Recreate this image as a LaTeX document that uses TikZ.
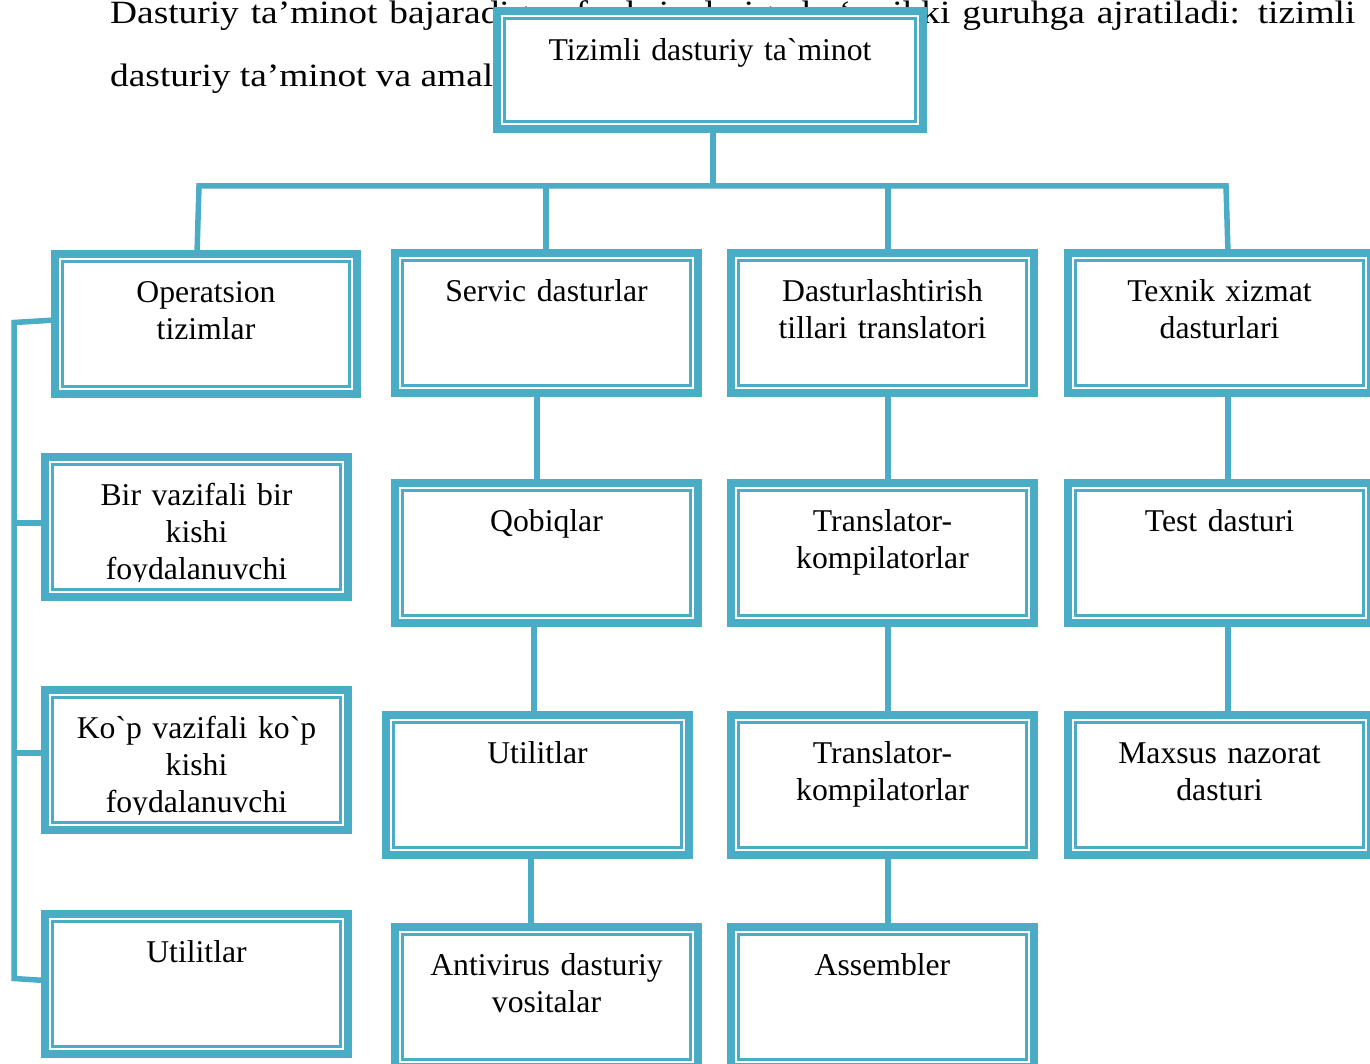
\documentclass[tikz,border=0pt]{standalone}
\usepackage{fontspec}
\setmainfont{Liberation Serif}[Ligatures=TeXOff]
\newfontfamily\parafont{Liberation Serif}[FakeStretch=1.15]
\usetikzlibrary{calc}
\definecolor{frame}{RGB}{75,172,198}

\tikzset{
  boxfont/.style={font=\fontsize{31.7}{37}\selectfont},
  chart/.style={rectangle, draw=frame, line width=8.3pt, fill=white,
    inner sep=0pt, outer sep=0pt, anchor=north west, align=center,
    boxfont, text width=290pt, minimum width=302.7pt,
    text height=48.35pt, text depth=91.35pt,
    path picture={\draw[frame, line width=2.6pt]
      ($(path picture bounding box.south west)+(7.45pt,7.45pt)$) rectangle
      ($(path picture bounding box.north east)+(-7.45pt,-7.45pt)$);}},
  link/.style={draw=frame, line width=5.5pt},
  paratext/.style={anchor=base west, inner sep=0pt,
    font=\parafont\fontsize{32.5}{40}\selectfont},
}

\begin{document}
\begin{tikzpicture}[x=1pt,y=-1pt]
\useasboundingbox (0,0) rectangle (1370,1064);
\fill[white] (0,0) rectangle (1370,1064);

% running paragraph behind the chart
\node[paratext] (line1) at (110,24)
  {\makebox[1245pt][s]{Dasturiy ta’minot bajaradigan funksiyalariga ko‘ra ikki guruhga ajratiladi: tizimli}};
\node[paratext] (line2) at (110,87) {dasturiy ta’minot va amaliy};

% root
\node[chart, text width=400pt, minimum width=425.7pt,
      text height=49.85pt, text depth=67.85pt] (top) at (497.15,11.15)
  {Tizimli dasturiy ta`minot};

% first level
\node[chart, minimum width=301.7pt] (op) at (55.15,254.15) {Operatsion\\tizimlar};
\node[chart] (serv) at (395.15,253.15) {Servic dasturlar};
\node[chart] (dast) at (731.15,253.15) {Dasturlashtirish\\tillari translatori};
\node[chart] (tex)  at (1068.15,253.15) {Texnik xizmat\\dasturlari};

% operating systems
\node[chart] (bir)   at (45.15,457.15) {Bir vazifali bir\\kishi};
\node[chart] (kop)   at (45.15,690.15) {Ko`p vazifali ko`p\\kishi};
\node[chart] (util1) at (45.15,914.15) {Utilitlar};

% service programs
\node[chart] (qob)   at (395.15,483.15) {Qobiqlar};
\node[chart] (util2) at (386.15,715.15) {Utilitlar};
\node[chart] (anti)  at (395.15,927.15) {Antivirus dasturiy\\vositalar};

% translators
\node[chart] (tr1) at (731.15,483.15) {Translator-\\kompilatorlar};
\node[chart] (tr2) at (731.15,715.15) {Translator-\\kompilatorlar};
\node[chart] (asm) at (731.15,927.15) {Assembler};

% maintenance
\node[chart] (test) at (1068.15,483.15) {Test dasturi};
\node[chart] (max)  at (1068.15,715.15) {Maxsus nazorat\\dasturi};

% third lines cut off by the text box margin
\begin{scope}
  \clip (45,555) rectangle (350,581);
  \node[boxfont, anchor=base, inner sep=0pt] (bir3) at (196.5,579.5) {foydalanuvchi};
\end{scope}
\begin{scope}
  \clip (45,788) rectangle (350,814);
  \node[boxfont, anchor=base, inner sep=0pt] (kop3) at (196.5,812.5) {foydalanuvchi};
\end{scope}

% connector guides
\coordinate (hub)  at (713,186);
\coordinate (busL) at (199,186);
\coordinate (busR) at (1226,186);
\coordinate (xop)  at (197,0);
\coordinate (xsv)  at (546,0);
\coordinate (xsq)  at (537,0);
\coordinate (xqu)  at (534,0);
\coordinate (xua)  at (531,0);
\coordinate (xtr)  at (888,0);
\coordinate (xtx)  at (1228,0);
\coordinate (brTop) at (14,322.5);
\coordinate (brBot) at (14,978.5);
\coordinate (yop)  at (0,320);
\coordinate (ybir) at (0,523);
\coordinate (ykop) at (0,753);
\coordinate (yut)  at (0,980.5);

% tree
\draw[link] (top.south -| hub) -- (hub);
\draw[link] (op.north -| xop) -- (busL) -- (busR) -- (tex.north -| xtx);
\draw[link] (busL -| xsv) -- (serv.north -| xsv);
\draw[link] (busL -| xtr) -- (dast.north -| xtr);

\draw[link] (serv.south -| xsq) -- (qob.north -| xsq);
\draw[link] (qob.south -| xqu) -- (util2.north -| xqu);
\draw[link] (util2.south -| xua) -- (anti.north -| xua);

\draw[link] (dast.south -| xtr) -- (tr1.north -| xtr);
\draw[link] (tr1.south -| xtr) -- (tr2.north -| xtr);
\draw[link] (tr2.south -| xtr) -- (asm.north -| xtr);

\draw[link] (tex.south -| xtx) -- (test.north -| xtx);
\draw[link] (test.south -| xtx) -- (max.north -| xtx);

% bracket of operating systems
\draw[link] (op.west |- yop) -- (brTop) -- (brBot) -- (util1.west |- yut);
\draw[link] (brTop |- ybir) -- (bir.west |- ybir);
\draw[link] (brTop |- ykop) -- (kop.west |- ykop);
\end{tikzpicture}
\end{document}
